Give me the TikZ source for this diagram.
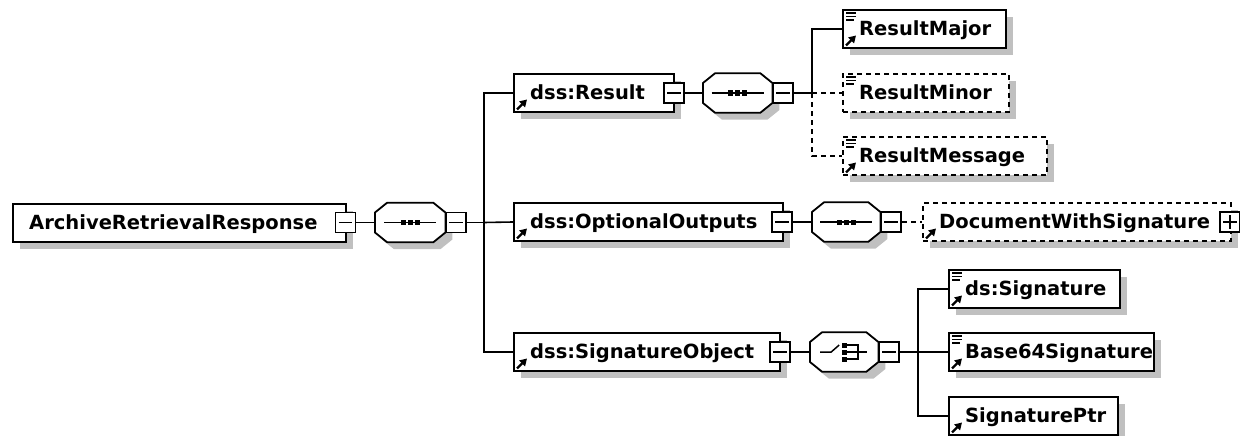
\documentclass[tikz,border=0pt]{standalone}
\usepackage{fontspec}
\newfontfamily\boxfont{DejaVu Sans}
\usetikzlibrary{shadows,calc,arrows.meta}
\definecolor{shadowgray}{RGB}{192,192,192}

% outline of a model group (octagon) drawn over a named placeholder node
\newcommand\octagon[1]{%
  \draw[line width=1.8pt, fill=white, shad]
    ($(#1.north west)+(12,0)$) -- ($(#1.north east)+(-12,0)$) --
    ($(#1.east)+(0,-10)$) -- ($(#1.east)+(0,10)$) --
    ($(#1.south east)+(-12,0)$) -- ($(#1.south west)+(12,0)$) --
    ($(#1.west)+(0,10)$) -- ($(#1.west)+(0,-10)$) -- cycle;}
% sequence symbol: a line with three dots
\newcommand\seqicon[1]{%
  \draw[line width=1.5pt] ($(#1.center)+(-26,0)$) -- ($(#1.center)+(26,0)$);
  \foreach \dx in {-7,0,7}{\fill ($(#1.center)+(\dx-2.5,-2.5)$) rectangle ++(5,5);}}
% choice symbol: a switch and three stacked squares
\newcommand\choiceicon[1]{%
  \draw[line width=1.5pt] ($(#1.center)+(-24,0)$) -- ($(#1.center)+(-13,0)$) -- ($(#1.center)+(-5,-7)$);
  \foreach \dy in {-7,0,7}{\fill ($(#1.center)+(-2,\dy-2.5)$) rectangle ++(5,5);}
  \draw[line width=1.5pt] ($(#1.center)+(3,-7)$) -- ($(#1.center)+(14,-7)$) -- ($(#1.center)+(14,7)$) -- ($(#1.center)+(3,7)$);
  \draw[line width=1.5pt] ($(#1.center)+(3,0)$) -- ($(#1.center)+(23,0)$);}
% reference arrow in the lower left corner of an element box
\newcommand\refarrow[1]{%
  \draw[line width=2.2pt, -{Triangle[length=7pt,width=8pt]}]
    ($(#1.south west)+(4,-3.5)$) -- ($(#1.south west)+(14,-13.5)$);}
% simple-content marker in the upper left corner of an element box
\newcommand\simplemark[1]{%
  \foreach \dy/\len in {4/10,7.5/10,11/8}{\draw[line width=1.8pt] ($(#1.north west)+(4,\dy)$) -- ++(\len,0);}}

\begin{document}
\begin{tikzpicture}[x=1pt,y=-1pt,
  shad/.style={drop shadow={shadow xshift=7pt,shadow yshift=-7pt,fill=shadowgray,opacity=1}},
  elbox/.style={draw=black, line width=2pt, fill=white, minimum height=38pt,
                minimum width=#1, inner sep=0, anchor=west, shad},
  optbox/.style={elbox=#1, dash pattern=on 5pt off 4pt},
  lbl/.style={anchor=base west, inner sep=0, font=\boxfont\bfseries\fontsize{19.5}{22}\selectfont},
  grp/.style={minimum width=#1, minimum height=39pt, inner sep=0, anchor=west},
  btn/.style={draw=black, line width=1.6pt, fill=white, minimum width=20pt, minimum height=20pt, inner sep=0},
  link/.style={line width=1.6pt},
  optlink/.style={link, dash pattern=on 5pt off 4pt}]
\useasboundingbox (0,0) rectangle (1240,436);

% ---- element boxes ----
\node[elbox=333pt] (ar) at (12,222.5) {};
\node[elbox=160pt] (res) at (513,93) {};
\node[elbox=269pt] (opt) at (513,222) {};
\node[elbox=266pt] (sob) at (513,352) {};
\node[elbox=163pt] (rmaj) at (842,29) {};
\node[optbox=166pt] (rmin) at (842,93) {};
\node[optbox=204pt] (rmsg) at (842,156) {};
\node[optbox=308pt] (dws) at (922,222) {};
\node[elbox=171pt] (dsig) at (948,289) {};
\node[elbox=205pt] (b64) at (948,352) {};
\node[elbox=169pt] (sptr) at (948,416) {};

% ---- labels ----
\node[lbl] (tar) at ($(ar.west)+(17,6.5)$) {ArchiveRetrievalResponse};
\node[lbl] (tres) at ($(res.west)+(17,6.5)$) {dss:Result};
\node[lbl] (topt) at ($(opt.west)+(17,6.5)$) {dss:OptionalOutputs};
\node[lbl] (tsob) at ($(sob.west)+(17,6.5)$) {dss:SignatureObject};
\node[lbl] (trmaj) at ($(rmaj.west)+(17,6.5)$) {ResultMajor};
\node[lbl] (trmin) at ($(rmin.west)+(17,6.5)$) {ResultMinor};
\node[lbl] (trmsg) at ($(rmsg.west)+(17,6.5)$) {ResultMessage};
\node[lbl] (tdws) at ($(dws.west)+(17,6.5)$) {DocumentWithSignature};
\node[lbl] (tdsig) at ($(dsig.west)+(17,6.5)$) {ds:Signature};
\node[lbl] (tb64) at ($(b64.west)+(17,6.5)$) {Base64Signature};
\node[lbl] (tsptr) at ($(sptr.west)+(17,6.5)$) {SignaturePtr};

% ---- corner markers ----
\foreach \n in {res,opt,sob,rmaj,rmsg,dws,dsig,b64,sptr}{\refarrow{\n}}
\foreach \n in {rmaj,rmin,rmsg,dsig,b64}{\simplemark{\n}}

% ---- model groups ----
\node[grp=70pt] (aog) at (375,222.5) {};
\node[grp=69pt] (rog) at (703,93) {};
\node[grp=68pt] (oog) at (812,222) {};
\node[grp=68pt] (sog) at (810,352) {};
\octagon{aog}\octagon{rog}\octagon{oog}\octagon{sog}
\seqicon{aog}\seqicon{rog}\seqicon{oog}
\choiceicon{sog}

% ---- expand / collapse buttons ----
\node[btn] (arb) at ($(ar.east)+(-1.5,0)$) {};
\node[btn] (resb) at ($(res.east)+(-1,0)$) {};
\node[btn] (optb) at ($(opt.east)+(-2,0)$) {};
\node[btn] (sobb) at ($(sob.east)+(-1,0)$) {};
\node[btn, anchor=west] (aogb) at (aog.east) {};
\node[btn, anchor=west] (rogb) at (rog.east) {};
\node[btn, anchor=west] (oogb) at (oog.east) {};
\node[btn, anchor=west] (sogb) at (sog.east) {};
\node[btn] (dwsb) at ($(dws.east)+(-2,0)$) {};
\foreach \b in {arb,resb,optb,sobb,aogb,rogb,oogb,sogb,dwsb}{
  \draw[line width=1.5pt] ($(\b.west)+(4,0)$) -- ($(\b.east)+(-4,0)$);}
\draw[line width=1.5pt] ($(dwsb.north)+(0,4)$) -- ($(dwsb.south)+(0,-4)$);

% ---- connectors ----
\coordinate (bus1) at (484,222.5);
\coordinate (bus2) at (812,93);
\coordinate (bus3) at (918,352);

\draw[link] (arb.east) -- (aog.west);
\draw[link] (aogb.east) -- (bus1);
\draw[link] (bus1) |- (res.west);
\draw[link] (bus1) -- (opt.west);
\draw[link] (bus1) |- (sob.west);

\draw[link] (resb.east) -- (rog.west);
\draw[link] (rogb.east) -- (bus2);
\draw[link] (bus2) |- (rmaj.west);
\draw[optlink] (bus2) -- (rmin.west);
\draw[optlink] (bus2) |- (rmsg.west);

\draw[link] (optb.east) -- (oog.west);
\draw[optlink] (oogb.east) -- (dws.west);

\draw[link] (sobb.east) -- (sog.west);
\draw[link] (sogb.east) -- (bus3);
\draw[link] (bus3) |- (dsig.west);
\draw[link] (bus3) -- (b64.west);
\draw[link] (bus3) |- (sptr.west);
\end{tikzpicture}
\end{document}
